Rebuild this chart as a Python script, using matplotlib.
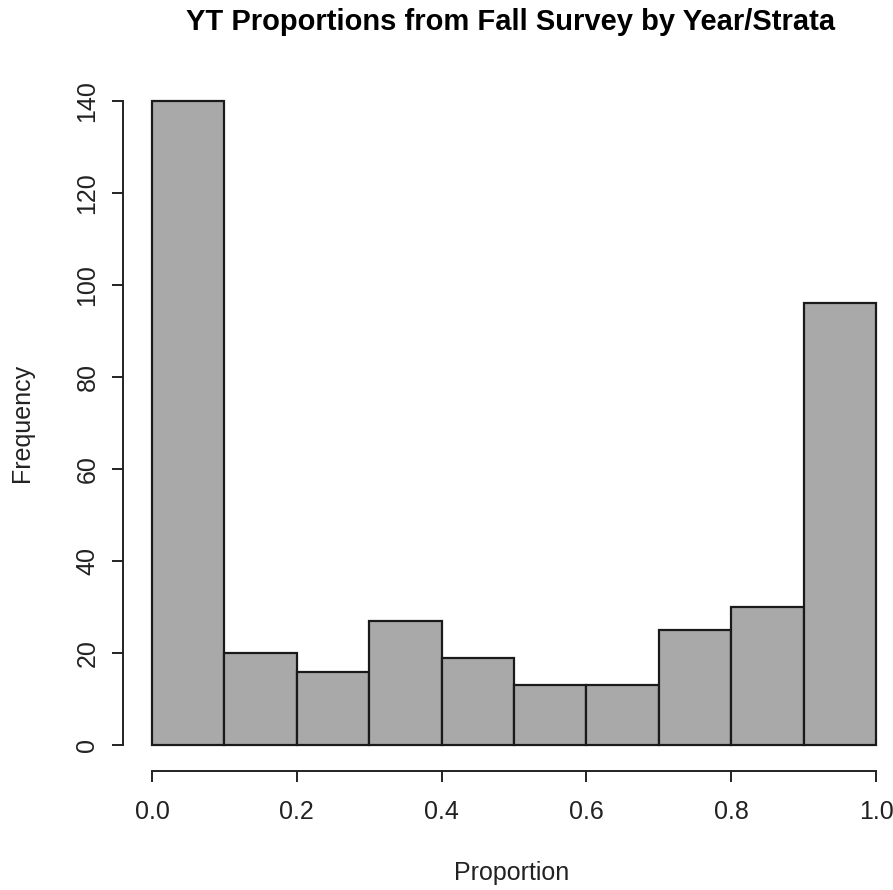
import numpy as np
import matplotlib.pyplot as plt

plt.rcParams['font.family'] = ['Liberation Sans', 'DejaVu Sans']

# histogram of year/strata proportions, bins of width 0.1
bin_edges = [0.0, 0.1, 0.2, 0.3, 0.4, 0.5, 0.6, 0.7, 0.8, 0.9, 1.0]
counts = [140, 20, 16, 27, 19, 13, 13, 25, 30, 96]
x_ticks = [0.0, 0.2, 0.4, 0.6, 0.8, 1.0]
y_ticks = [0, 20, 40, 60, 80, 100, 120, 140]

W, H = 893, 890
fig = plt.figure(figsize=(W / 100, H / 100), dpi=100)
# plot region in pixels (R-style, axes drawn at region edges)
left, right, top, bottom = 123, 905, 75, 771
ax = fig.add_axes([left / W, 1 - bottom / H, (right - left) / W, (bottom - top) / H])

ax.bar(bin_edges[:-1], counts, width=np.diff(bin_edges), align='edge',
       color='#a9a9a9', edgecolor='#1a1a1a', linewidth=1.6)

ax.set_xlim(-0.04, 1.04)
ax.set_ylim(-5.6, 145.6)

for s in ['top', 'right']:
    ax.spines[s].set_visible(False)
ax.spines['left'].set_bounds(0, 140)
ax.spines['bottom'].set_bounds(0, 1)
for s in ['left', 'bottom']:
    ax.spines[s].set_linewidth(1.4)
    ax.spines[s].set_color('#222222')

ax.set_xticks(x_ticks)
ax.set_xticklabels([f'{v:.1f}' for v in x_ticks])
ax.set_yticks(y_ticks)
ax.set_yticklabels([str(v) for v in y_ticks], rotation=90, va='center')
ax.tick_params(direction='out', length=8, width=1.4, color='#222222',
               labelsize=18, labelcolor='#222222')
ax.tick_params(axis='x', pad=13)
ax.tick_params(axis='y', pad=9)

txt = dict(color='#222222', ha='center', va='center')
fig.text(512 / W, 1 - 873 / H, 'Proportion', fontsize=18, **txt)
fig.text(22 / W, 1 - 423 / H, 'Frequency', fontsize=18, rotation=90, **txt)
fig.text(511 / W, 1 - 22 / H, 'YT Proportions from Fall Survey by Year/Strata',
         fontsize=21, fontweight='bold', ha='center', va='center', color='black')

fig.savefig('out.png', dpi=100)
